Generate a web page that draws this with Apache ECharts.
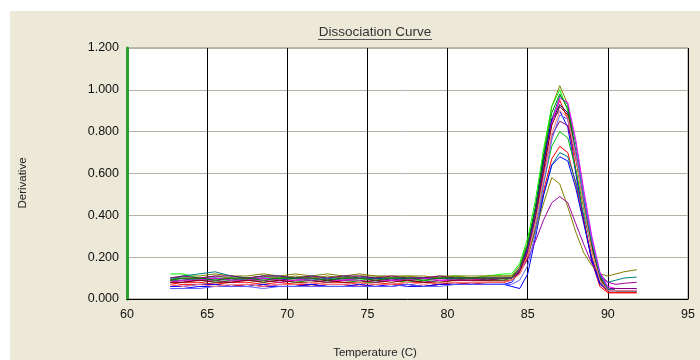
<!DOCTYPE html>
<html>
<head>
<meta charset="utf-8">
<script src="https://cdn.jsdelivr.net/npm/echarts@6/dist/echarts.min.js"></script>
<style>
  html, body { margin: 0; padding: 0; background: #fff; }
  #chart { width: 700px; height: 360px; }
</style>
</head>
<body>
<div id="chart"></div>
<script>
// temperature grid (C) shared by all wells
const temps = [62.7, 63.5, 64.5, 65.5, 66.5, 67.5, 68.5, 69.5, 70.5, 71.5, 72.5, 73.5, 74.5, 75.5, 76.5, 77.5, 78.5, 79.5, 80.5, 81.5, 82.5, 83.5,
  84.0, 84.5, 85.0, 85.5, 86.0, 86.5, 87.0, 87.5, 88.0, 88.5, 89.0, 89.5, 90.0, 90.5, 91.0, 91.8];

const yTicks = [0, 0.2, 0.4, 0.6, 0.8, 1.0, 1.2];
const xTicks = [60, 65, 70, 75, 80, 85, 90, 95];

// derivative values, one array per well
const olive1 = [.10,.11,.11,.12,.11,.11,.12,.11,.12,.11,.12,.11,.12,.11,.11,.11,.10,.11,.11,.11,.11,.11,
  .11,.16,.27,.45,.70,.92,1.02,.93,.70,.45,.24,.10,.05,.04,.04,.04];
const lime1 = [.12,.12,.10,.09,.10,.09,.10,.10,.09,.10,.09,.10,.09,.10,.10,.09,.10,.10,.11,.10,.11,.12,
  .12,.17,.29,.48,.72,.92,1.00,.90,.68,.44,.23,.09,.04,.04,.04,.04];
const teal1 = [.09,.11,.12,.13,.11,.10,.11,.11,.10,.11,.10,.11,.10,.10,.10,.10,.10,.10,.10,.10,.10,.10,
  .10,.14,.24,.41,.64,.86,.97,.93,.74,.50,.28,.12,.05,.04,.04,.04];
const red1 = [.07,.08,.08,.07,.08,.08,.07,.08,.07,.07,.08,.08,.07,.08,.07,.08,.08,.07,.08,.07,.08,.08,
  .09,.13,.22,.40,.63,.85,.95,.86,.62,.38,.18,.06,.03,.03,.03,.03];
const navy1 = [.09,.09,.10,.10,.09,.10,.10,.09,.10,.10,.09,.10,.10,.10,.09,.10,.10,.10,.10,.10,.09,.10,
  .10,.14,.25,.43,.66,.85,.93,.89,.70,.47,.26,.11,.05,.04,.04,.04];
const blue1 = [.05,.05,.06,.06,.06,.07,.06,.06,.06,.07,.06,.06,.06,.06,.07,.06,.06,.07,.07,.07,.07,.07,
  .08,.13,.24,.44,.68,.86,.90,.82,.60,.37,.18,.07,.04,.04,.04,.04];
const green1 = [.08,.09,.09,.08,.09,.09,.08,.09,.08,.09,.08,.09,.08,.08,.09,.08,.09,.08,.09,.09,.09,.09,
  .10,.13,.22,.37,.56,.73,.80,.77,.62,.43,.24,.10,.05,.04,.04,.04];
const red2 = [.06,.07,.07,.07,.06,.07,.06,.07,.07,.06,.07,.07,.06,.07,.07,.07,.06,.07,.07,.08,.08,.08,
  .09,.12,.20,.34,.52,.67,.73,.70,.55,.37,.20,.08,.03,.03,.03,.03];
const teal2 = [.10,.10,.09,.10,.10,.09,.10,.10,.10,.09,.10,.09,.10,.10,.10,.09,.10,.10,.09,.10,.10,.10,
  .10,.13,.21,.34,.50,.64,.70,.68,.56,.40,.24,.12,.08,.09,.10,.105];
const blue2 = [.06,.06,.07,.07,.06,.06,.07,.06,.06,.07,.06,.06,.07,.06,.06,.07,.06,.07,.07,.07,.07,.07,
  .06,.05,.12,.30,.50,.64,.68,.66,.53,.36,.19,.08,.04,.04,.04,.04];
const olive2 = [.09,.10,.10,.11,.10,.10,.11,.10,.11,.10,.11,.10,.11,.11,.10,.11,.11,.10,.11,.10,.11,.11,
  .11,.14,.21,.33,.46,.58,.55,.44,.32,.22,.16,.12,.11,.12,.13,.14];
const purple1 = [.08,.08,.09,.09,.08,.09,.09,.08,.09,.09,.08,.09,.09,.08,.09,.09,.08,.09,.09,.09,.09,.10,
  .10,.13,.19,.28,.38,.46,.49,.46,.36,.26,.17,.11,.08,.07,.075,.08];
const magenta1 = [.08,.09,.09,.10,.09,.09,.10,.09,.09,.10,.09,.09,.10,.09,.09,.09,.10,.09,.09,.09,.10,.10,
  .10,.14,.23,.40,.62,.84,.96,.94,.76,.52,.30,.13,.06,.05,.05,.05];
const maroon1 = [.08,.08,.09,.08,.08,.09,.08,.09,.08,.08,.09,.08,.08,.09,.08,.09,.08,.08,.09,.09,.09,.09,
  .09,.13,.22,.40,.62,.83,.92,.88,.69,.46,.25,.10,.04,.04,.04,.04];
const purple2 = [.10,.11,.10,.11,.11,.10,.11,.11,.10,.11,.10,.11,.11,.10,.11,.10,.10,.11,.10,.10,.10,.10,
  .10,.14,.23,.39,.60,.78,.85,.83,.67,.46,.27,.12,.05,.05,.05,.05];
const green2 = [.09,.10,.10,.09,.10,.10,.09,.10,.10,.10,.09,.10,.10,.09,.10,.10,.09,.10,.10,.10,.10,.10,
  .10,.15,.26,.44,.68,.89,.98,.91,.70,.46,.26,.11,.05,.04,.04,.04];
const lightBlue1 = [.05,.05,.05,.06,.06,.06,.05,.06,.06,.06,.06,.06,.06,.06,.06,.07,.06,.06,.07,.07,.07,.07,
  .07,.09,.16,.32,.55,.76,.88,.86,.70,.48,.28,.12,.05,.04,.04,.04];
const salmon1 = [.07,.06,.07,.06,.07,.07,.06,.07,.07,.08,.07,.07,.08,.07,.07,.08,.07,.08,.08,.08,.08,.08,
  .09,.12,.21,.37,.58,.79,.90,.87,.68,.44,.23,.09,.04,.04,.04,.04];

const wells = [
  { color: '#808000', values: olive1 },
  { color: '#00ff00', values: lime1 },
  { color: '#008080', values: teal1 },
  { color: '#ff0000', values: red1 },
  { color: '#000080', values: navy1 },
  { color: '#0000ff', values: blue1 },
  { color: '#00c000', values: green1 },
  { color: '#ff0000', values: red2 },
  { color: '#008080', values: teal2 },
  { color: '#0000ff', values: blue2 },
  { color: '#808000', values: olive2 },
  { color: '#a000a0', values: purple1 },
  { color: '#ff00ff', values: magenta1 },
  { color: '#800000', values: maroon1 },
  { color: '#800080', values: purple2 },
  { color: '#008000', values: green2 },
  { color: '#6060ff', values: lightBlue1 },
  { color: '#ff8080', values: salmon1 }
];

const font = 'Liberation Sans, Arial, sans-serif';
const chart = echarts.init(document.getElementById('chart'));

chart.setOption({
  backgroundColor: '#fff',
  animation: false,
  graphic: [
    { type: 'rect', z: -10, shape: { x: 10, y: 11, width: 690, height: 349 }, style: { fill: '#ece9d8' } },
    { type: 'text', x: 375, y: 32, style: { text: 'Dissociation Curve', font: '13.5px ' + font, fill: '#333', align: 'center', verticalAlign: 'middle' } },
    { type: 'line', shape: { x1: 318, y1: 39.5, x2: 432, y2: 39.5 }, style: { stroke: '#555', lineWidth: 1 } },
    { type: 'text', x: 23, y: 183, rotation: Math.PI / 2, style: { text: 'Derivative', font: '11.5px ' + font, fill: '#222', align: 'center', verticalAlign: 'middle' } },
    { type: 'text', x: 375, y: 353, style: { text: 'Temperature (C)', font: '11.5px ' + font, fill: '#222', align: 'center', verticalAlign: 'middle' } }
  ],
  grid: {
    left: 127, right: 12, top: 48, bottom: 61,
    show: true, backgroundColor: '#fff', borderColor: '#8a877a', borderWidth: 1
  },
  xAxis: {
    type: 'value', min: xTicks[0], max: xTicks[xTicks.length - 1], interval: 5,
    axisLine: { lineStyle: { color: '#000' } },
    axisTick: { show: false },
    splitLine: { show: true, lineStyle: { color: '#000', width: 1 } },
    axisLabel: { color: '#111', fontSize: 12.5, fontFamily: font, margin: 9, showMinLabel: true, showMaxLabel: true }
  },
  yAxis: {
    type: 'value', min: yTicks[0], max: yTicks[yTicks.length - 1], interval: 0.2,
    axisLine: { show: true, lineStyle: { color: '#2ca02c', width: 3 } },
    axisTick: { show: false },
    splitLine: { show: true, lineStyle: { color: '#b5b1a4', width: 1 } },
    axisLabel: { color: '#111', fontSize: 12.5, fontFamily: font, margin: 8, formatter: v => v.toFixed(3) }
  },
  series: wells.map(w => ({
    type: 'line',
    data: temps.map((t, i) => [t, w.values[i]]),
    showSymbol: false,
    lineStyle: { color: w.color, width: 1 },
    itemStyle: { color: w.color }
  }))
});
</script>
</body>
</html>
